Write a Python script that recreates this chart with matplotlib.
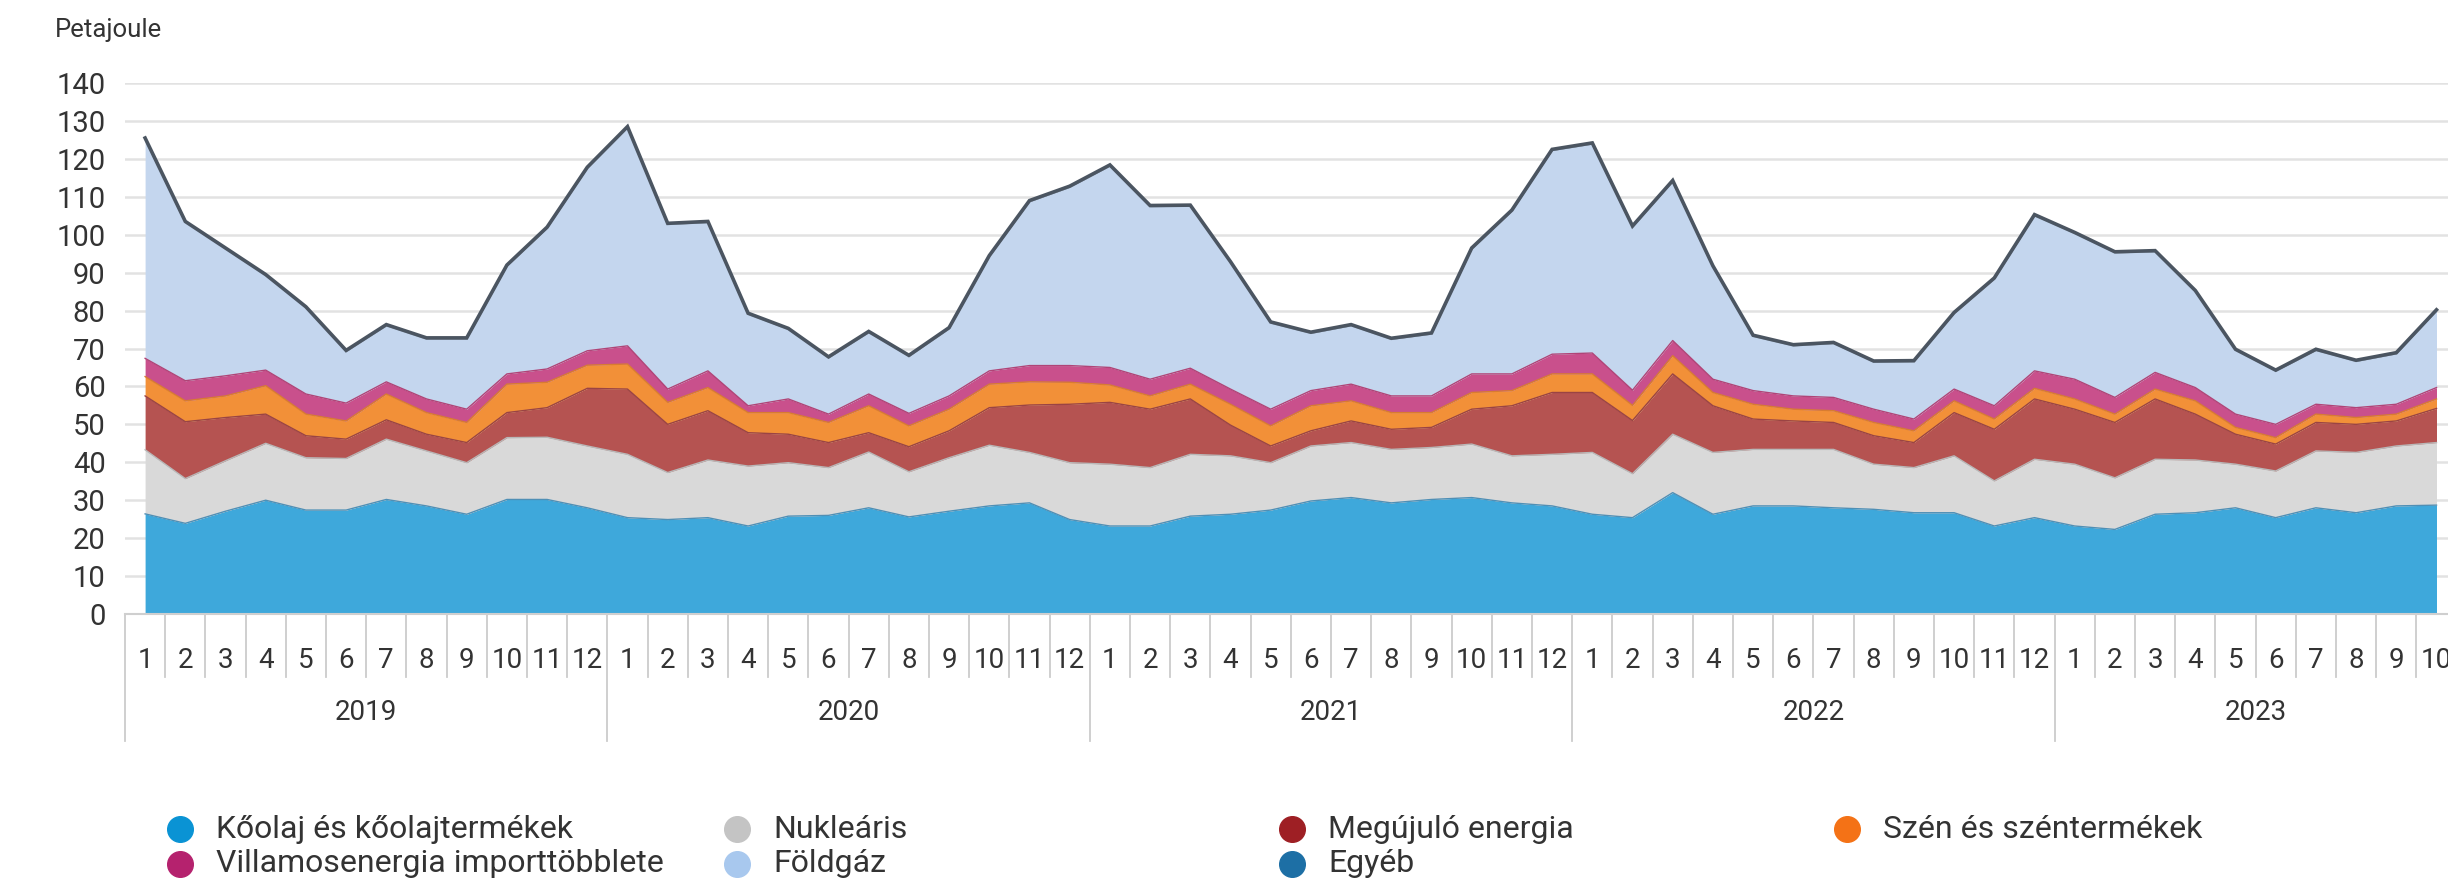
import numpy as np
import matplotlib
matplotlib.use('Agg')
import matplotlib.pyplot as plt
import matplotlib.transforms as mtransforms

plt.rcParams['font.family'] = ['Roboto', 'DejaVu Sans']

# havi adatok, 2019.01 - 2023.10 (Petajoule)
years = ['2019', '2020', '2021', '2022', '2023']
month_labels = [str(m) for m in range(1, 13)] * 4 + [str(m) for m in range(1, 11)]

koolaj = [26.4, 23.9, 27.1, 30.0, 27.4, 27.4, 30.2, 28.5, 26.3, 30.2, 30.2, 28.0,
          25.4, 24.9, 25.4, 23.2, 25.8, 26.0, 28.0, 25.6, 27.1, 28.5, 29.3, 24.9,
          23.2, 23.2, 25.8, 26.3, 27.4, 29.8, 30.7, 29.3, 30.2, 30.7, 29.3, 28.5,
          26.3, 25.4, 32.0, 26.3, 28.5, 28.5, 28.0, 27.6, 26.7, 26.7, 23.2, 25.4,
          23.2, 22.3, 26.3, 26.7, 28.0, 25.4, 28.0, 26.7, 28.5, 28.7]
nuklearis = [16.9, 11.8, 13.3, 15.0, 13.8, 13.6, 15.9, 14.5, 13.6, 16.3, 16.4, 16.3,
             16.7, 12.4, 15.2, 15.8, 14.1, 12.6, 14.7, 11.9, 14.1, 16.0, 13.3, 15.0,
             16.3, 15.4, 16.3, 15.4, 12.5, 14.5, 14.5, 14.1, 13.7, 14.1, 12.4, 13.6,
             16.3, 11.6, 15.4, 16.3, 14.9, 14.9, 15.4, 11.9, 11.9, 15.0, 11.9, 15.4,
             16.3, 13.6, 14.5, 13.9, 11.5, 12.3, 15.0, 15.9, 15.8, 16.5]
megujulo = [14.2, 15.0, 11.4, 7.7, 5.8, 5.1, 5.1, 4.4, 5.3, 6.6, 7.8, 15.2,
            17.2, 12.7, 13.0, 8.8, 7.5, 6.6, 5.1, 6.6, 7.1, 9.9, 12.5, 15.4,
            16.3, 15.4, 14.6, 8.1, 4.4, 4.0, 5.7, 5.3, 5.3, 9.2, 13.2, 16.3,
            15.8, 14.0, 15.9, 12.3, 8.0, 7.5, 7.1, 7.5, 6.6, 11.4, 13.6, 15.9,
            14.5, 14.6, 15.9, 12.1, 7.9, 7.1, 7.5, 7.4, 6.6, 9.0]
szen = [5.1, 5.5, 5.7, 7.5, 5.7, 4.8, 6.8, 5.7, 5.3, 7.5, 6.7, 6.1,
        6.6, 5.8, 6.1, 5.3, 5.7, 5.3, 7.1, 5.5, 5.7, 6.2, 6.1, 5.8,
        4.6, 3.5, 3.9, 5.5, 5.3, 6.6, 5.3, 4.4, 3.9, 4.4, 4.0, 4.9,
        4.9, 4.0, 4.8, 3.5, 3.9, 3.1, 3.1, 3.5, 3.1, 3.1, 2.7, 2.8,
        2.7, 2.2, 2.6, 3.5, 1.8, 1.7, 2.2, 1.8, 1.8, 2.5]
villamos = [4.8, 5.3, 5.3, 4.1, 5.3, 4.7, 3.2, 3.6, 3.5, 2.7, 3.5, 3.8,
            4.8, 3.5, 4.4, 1.8, 3.6, 2.2, 3.1, 3.3, 3.5, 3.5, 4.3, 4.4,
            4.6, 4.4, 4.2, 4.0, 4.4, 4.0, 4.4, 4.4, 4.4, 4.9, 4.4, 5.2,
            5.5, 4.0, 4.0, 3.5, 3.6, 3.5, 3.5, 3.5, 3.1, 3.1, 3.5, 4.6,
            5.2, 4.4, 4.4, 3.5, 3.5, 3.5, 2.6, 2.6, 2.6, 3.0]
foldgaz = [57.8, 41.7, 33.4, 24.9, 22.7, 13.6, 14.8, 15.8, 18.5, 28.4, 37.1, 48.1,
           57.5, 43.4, 39.1, 24.1, 18.3, 14.8, 16.2, 15.0, 17.7, 30.1, 43.2, 47.0,
           53.1, 45.5, 42.7, 33.3, 22.7, 15.1, 15.4, 14.9, 16.3, 32.9, 42.9, 53.7,
           55.1, 43.0, 41.9, 29.6, 14.3, 13.2, 14.2, 12.4, 15.1, 19.9, 33.4, 40.9,
           38.4, 38.1, 31.8, 25.3, 16.8, 14.0, 14.2, 12.2, 13.3, 20.2]
egyeb = [0.3, 0.3, 0.3, 0.3, 0.3, 0.3, 0.3, 0.3, 0.3, 0.3, 0.3, 0.3,
         0.3, 0.3, 0.3, 0.3, 0.3, 0.3, 0.3, 0.3, 0.3, 0.3, 0.3, 0.3,
         0.3, 0.3, 0.3, 0.3, 0.3, 0.3, 0.3, 0.3, 0.3, 0.3, 0.3, 0.3,
         0.3, 0.3, 0.3, 0.3, 0.3, 0.3, 0.3, 0.3, 0.3, 0.3, 0.3, 0.3,
         0.3, 0.3, 0.3, 0.3, 0.3, 0.3, 0.3, 0.3, 0.3, 0.3]

series = [
    ('Kőolaj és kőolajtermékek', koolaj, '#3ea8db', '#4f8fb5', '#0a93d4'),
    ('Nukleáris', nuklearis, '#d9d9d9', '#b8b8b8', '#c4c4c4'),
    ('Megújuló energia', megujulo, '#b55351', '#9a4444', '#9e1f24'),
    ('Szén és széntermékek', szen, '#f29038', '#d87c30', '#f47216'),
    ('Villamosenergia importtöbblete', villamos, '#c9508c', '#b04477', '#b5226e'),
    ('Földgáz', foldgaz, '#c4d6ee', '#aabfd8', '#a8c8ee'),
    ('Egyéb', egyeb, '#4b5561', '#4b5561', '#1d6fa5'),
]

W, H = 2448, 884
fig = plt.figure(figsize=(W / 100, H / 100), dpi=100)
n = len(koolaj)
x = np.arange(n)
step = 40.2
ax = fig.add_axes([125 / W, 1 - 614 / H, n * step / W, (614 - 83) / H])
ax.set_xlim(-0.5, n - 0.5)
ax.set_ylim(0, 140)

base = np.zeros(n)
for name, vals, fc, ec, lc in series:
    top = base + np.array(vals)
    ax.fill_between(x, base, top, color=fc, linewidth=0, zorder=2)
    if name == 'Egyéb':
        ax.plot(x, top, color=ec, lw=2.6, zorder=4, solid_joinstyle='miter')
    else:
        ax.plot(x, top, color=ec, lw=1.0, zorder=3)
    base = top

ax.set_yticks(range(0, 141, 10))
ax.yaxis.grid(True, color='#e2e2e2', lw=1.8, zorder=0)
ax.set_axisbelow(True)
ax.tick_params(axis='y', length=0, pad=14, labelsize=21, labelcolor='#333333')
ax.set_xticks([])
for s in ['top', 'right', 'left']:
    ax.spines[s].set_visible(False)
ax.spines['bottom'].set_color('#cfcfcf')
ax.spines['bottom'].set_linewidth(1.5)

# honap / ev tengely
trans = mtransforms.blended_transform_factory(ax.transData, ax.transAxes)
ph = (614 - 83)
for k in range(n + 1):
    xe = k - 0.5
    low = -127 / ph if k % 12 == 0 else -63 / ph
    ax.plot([xe, xe], [0, low], transform=trans, color='#cccccc', lw=1.3, clip_on=False)
for i, lab in enumerate(month_labels):
    ax.text(i, -46 / ph, lab, transform=trans, ha='center', va='center',
            fontsize=20, color='#333333')
for j, yr in enumerate(years):
    start = j * 12
    end = min(start + 12, n)
    ax.text((start + end - 1) / 2, -99 / ph, yr, transform=trans, ha='center', va='center',
            fontsize=20, color='#333333')

fig.text(55 / W, 1 - 30 / H, 'Petajoule', ha='left', va='center', fontsize=18.5, color='#333333')

# jelmagyarazat
lax = fig.add_axes([0, 0, 1, 1])
lax.set_xlim(0, W)
lax.set_ylim(H, 0)
lax.axis('off')
leg_pos = [(180, 829), (737, 829), (1292, 829), (1847, 829),
           (180, 864), (737, 864), (1292, 864)]
for (lx, ly), (name, vals, fc, ec, lc) in zip(leg_pos, series):
    lax.scatter([lx], [ly], s=340, color=lc, zorder=5)
    lax.text(lx + 36, ly, name, ha='left', va='center', fontsize=23, color='#333333')

fig.savefig('out.png', dpi=100, facecolor='white')
